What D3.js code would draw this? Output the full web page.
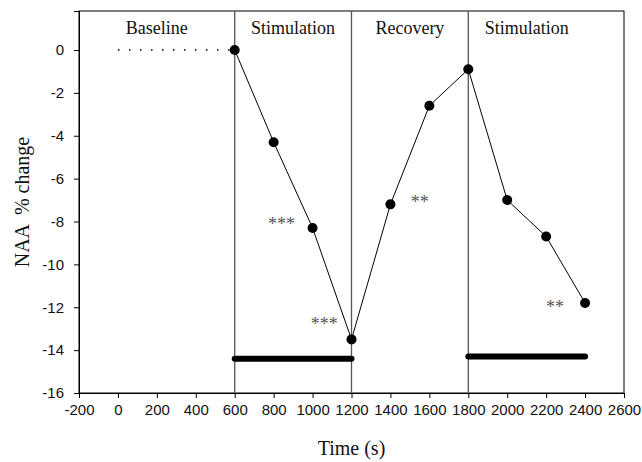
<!DOCTYPE html>
<html><head><meta charset="utf-8">
<script src="https://cdn.jsdelivr.net/npm/d3@7"></script>
<style>body{margin:0;background:#fff}</style>
</head><body>
<svg id="c" width="642" height="462"></svg>
<script>
const times = [600, 800, 1000, 1200, 1400, 1600, 1800, 2000, 2200, 2400];
const naaChange = [0, -4.3, -8.3, -13.5, -7.2, -2.6, -0.9, -7.0, -8.7, -11.8];
const phaseBounds = [600, 1200, 1800];
const phaseLabels = ["Baseline", "Stimulation", "Recovery", "Stimulation"];
const phaseLabelX = [200, 900, 1500, 2100];
const baselineDots = [[0, 0], [600, 0]];
const stimStart = [600, 1800];
const stimEnd = [1200, 2400];
const stimLevel = [-14.4, -14.3];
const sigText = ["***", "***", "**", "**"];
const sigX = [840, 1060, 1550, 2245];
const sigY = [-8.0, -12.7, -7.0, -11.9];
const xTicks = d3.range(-200, 2601, 200);
const yTicks = d3.range(-16, 1, 2);

const W = 642, H = 462;
const m = {l: 79, r: 18, t: 11, b: 69};
const svg = d3.select("#c");
const x = d3.scaleLinear().domain([-200, 2600]).range([m.l, W - m.r]);
const y = d3.scaleLinear().domain([-16, 1.82]).range([H - m.b, m.t]);
const serif = "'Liberation Serif','Times New Roman',serif";
const sans = "'Liberation Sans',Arial,sans-serif";

// frame
svg.append("rect").attr("x", m.l).attr("y", m.t).attr("width", W - m.l - m.r).attr("height", H - m.t - m.b)
  .attr("fill", "none").attr("stroke", "#000").attr("stroke-width", 1);

// phase separators
svg.selectAll(".sep").data(phaseBounds).join("line")
  .attr("x1", d => x(d)).attr("x2", d => x(d)).attr("y1", m.t).attr("y2", H - m.b)
  .attr("stroke", "#555").attr("stroke-width", 1.3);

// axes
const xa = svg.append("g").attr("transform", `translate(0,${H - m.b})`)
  .call(d3.axisBottom(x).tickValues(xTicks).tickSize(5).tickPadding(6));
const ya = svg.append("g").attr("transform", `translate(${m.l},0)`)
  .call(d3.axisLeft(y).tickValues(yTicks).tickSize(5).tickPadding(10));
[xa, ya].forEach(g => {
  g.select(".domain").attr("stroke", "#000");
  g.selectAll(".tick line").attr("stroke", "#000");
  g.selectAll("text").attr("font-family", sans).attr("font-size", 15).attr("fill", "#111")
    .text(d => String(d));
});

// phase labels
svg.selectAll(".ph").data(phaseLabels).join("text")
  .attr("x", (d, i) => x(phaseLabelX[i])).attr("y", 34)
  .attr("text-anchor", "middle").attr("font-family", serif).attr("font-size", 18).attr("fill", "#111")
  .text(d => d);

// baseline dotted line
svg.append("path").datum(baselineDots)
  .attr("d", d3.line().x(d => x(d[0])).y(d => y(d[1])))
  .attr("stroke", "#000").attr("stroke-width", 1.6).attr("stroke-dasharray", "1.6,9.4").attr("fill", "none");

// stimulation bars
svg.selectAll(".bar").data(stimStart).join("line")
  .attr("x1", d => x(d)).attr("x2", (d, i) => x(stimEnd[i]))
  .attr("y1", (d, i) => y(stimLevel[i])).attr("y2", (d, i) => y(stimLevel[i]))
  .attr("stroke", "#000").attr("stroke-width", 6).attr("stroke-linecap", "round");

// data line
const pts = times.map((t, i) => [t, naaChange[i]]);
svg.append("path").datum(pts)
  .attr("d", d3.line().x(d => x(d[0])).y(d => y(d[1])))
  .attr("stroke", "#000").attr("stroke-width", 1).attr("fill", "none");
svg.selectAll(".pt").data(pts).join("circle")
  .attr("cx", d => x(d[0])).attr("cy", d => y(d[1])).attr("r", 5).attr("fill", "#000");

// significance
svg.selectAll(".sig").data(sigText).join("text")
  .attr("x", (d, i) => x(sigX[i])).attr("y", (d, i) => y(sigY[i]) + 8)
  .attr("text-anchor", "middle").attr("font-family", serif).attr("font-size", 18).attr("fill", "#555")
  .text(d => d);

// axis titles
svg.append("text").attr("x", x(1200)).attr("y", 455).attr("text-anchor", "middle")
  .attr("font-family", serif).attr("font-size", 20).attr("fill", "#111").text("Time (s)");
svg.append("text").attr("transform", `translate(29,${(m.t + H - m.b) / 2}) rotate(-90)`)
  .attr("text-anchor", "middle").attr("font-family", serif).attr("font-size", 20).attr("fill", "#111")
  .attr("xml:space", "preserve").style("white-space", "pre").text("NAA  % change");
</script>
</body></html>
